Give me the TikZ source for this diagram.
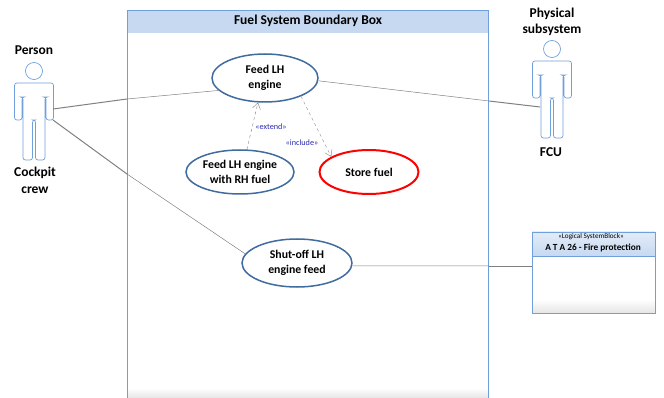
\documentclass[tikz,border=0pt]{standalone}
\usepackage{fontspec}
\setmainfont{Carlito}
\usetikzlibrary{arrows.meta,shapes.geometric}
\definecolor{frameblue}{HTML}{6FA0DC}
\definecolor{headblue}{HTML}{C6D9F1}
\definecolor{ringblue}{HTML}{3F6B9E}
\definecolor{tagblue}{HTML}{2A2AB0}
\tikzset{
	usecase/.style={shape=ellipse,draw=ringblue,line width=1.5pt,fill=white,inner sep=0pt,align=center,font=\fontsize{11.8}{15}\selectfont\bfseries},
	label/.style={align=center,font=\fontsize{13.5}{16.5}\selectfont\bfseries},
	tag/.style={text=tagblue,font=\fontsize{8.2}{9}\selectfont},
	assoc/.style={draw=black!50,line width=1pt},
	assocthin/.style={draw=black!50,line width=0.5pt},
	depend/.style={draw=black!50,line width=0.4pt,dashed,-{Straight Barb[length=6pt,width=8pt]}},
	pics/actor/.style={code={
		\draw[frameblue,line width=0.7pt] (0,-12) circle (8.5pt);
		\draw[frameblue,line width=0.7pt,rounded corners=2.5pt] (-19.5,0) -- (-19.5,37) -- (-12,37) -- (-12,14) -- (-11,14) -- (-11,77) -- (-1.5,77) -- (-1.5,37) -- (1.5,37) -- (1.5,77) -- (11,77) -- (11,14) -- (12,14) -- (12,37) -- (19.5,37) -- (19.5,0) -- cycle;
	}}
}
\begin{document}
\begin{tikzpicture}[x=1pt,y=-1pt]
	\useasboundingbox (0,0) rectangle (664,398);
	% boundary box
	\shade[top color=white,bottom color=black!10] (127,388) rectangle (489,398);
	\fill[headblue] (127,10) rectangle (488,33);
	\draw[frameblue,line width=0.8pt] (127.5,398) -- (127.5,10) -- (488.5,10) -- (488.5,398);
	\node[label] (title) at (308,21) {Fuel System Boundary Box};
	% actors
	\pic at (34,83) {actor};
	\pic at (552,61) {actor};
	\node[label] (person) at (34,50) {Person};
	\node[label] (crew) at (35,180.5) {Cockpit\\crew};
	\node[label] (physical) at (552,22) {Physical\\subsystem};
	\node[label] (fcu) at (551,152) {FCU};
	% block
	\fill[white] (532,232) rectangle (655,313);
	\shade[top color=white,bottom color=black!10] (532,299) rectangle (655,313);
	\shade[top color=headblue!50,bottom color=headblue] (532,232) rectangle (655,256);
	\draw[frameblue,line width=0.8pt] (532,232) rectangle (655,313);
	\draw[frameblue,line width=0.8pt] (532,256) -- (655,256);
	\node[font=\fontsize{7.2}{8}\selectfont] (stereo) at (591,237) {«Logical SystemBlock»};
	\node[font=\fontsize{9.3}{11}\selectfont\bfseries] (ata) at (593,248) {A T A 26 - Fire protection};
	% use cases
	\node[usecase,minimum width=106pt,minimum height=48pt] (feed) at (265,78) {Feed LH\\engine};
	\node[usecase,minimum width=108pt,minimum height=44pt] (feedrh) at (240,172) {Feed LH engine\\with RH fuel};
	\node[usecase,draw=red,line width=2pt,minimum width=99pt,minimum height=44pt] (store) at (369,172) {Store fuel};
	\node[usecase,minimum width=110pt,minimum height=48pt] (shutoff) at (297,263) {Shut-off LH\\engine feed};
	% connectors
	\coordinate (PersonA) at (53,109);
	\coordinate (PersonB) at (53,120);
	\coordinate (CrossA) at (127,99);
	\coordinate (CrossB) at (127,174);
	\coordinate (CrossC) at (489,101);
	\coordinate (CrossD) at (489,266);
	\coordinate (FcuA) at (540,107);
	\coordinate (BlockA) at (532,266);
	\draw[assoc] (PersonA) to (CrossA);
	\draw[assocthin] (CrossA) to (feed.195);
	\draw[assoc] (PersonB) to (CrossB);
	\draw[assocthin] (CrossB) to (shutoff.170);
	\draw[assocthin] (feed.357) to (CrossC);
	\draw[assoc] (CrossC) to (FcuA);
	\draw[assocthin] (shutoff.357) to (CrossD);
	\draw[assoc] (CrossD) to (BlockA);
	\draw[depend] (feedrh.73) to (feed.254);
	\draw[depend] (feed.333) to (store.158);
	\node[tag] (extend) at (271,127) {«extend»};
	\node[tag] (include) at (302,143) {«include»};
\end{tikzpicture}
\end{document}
